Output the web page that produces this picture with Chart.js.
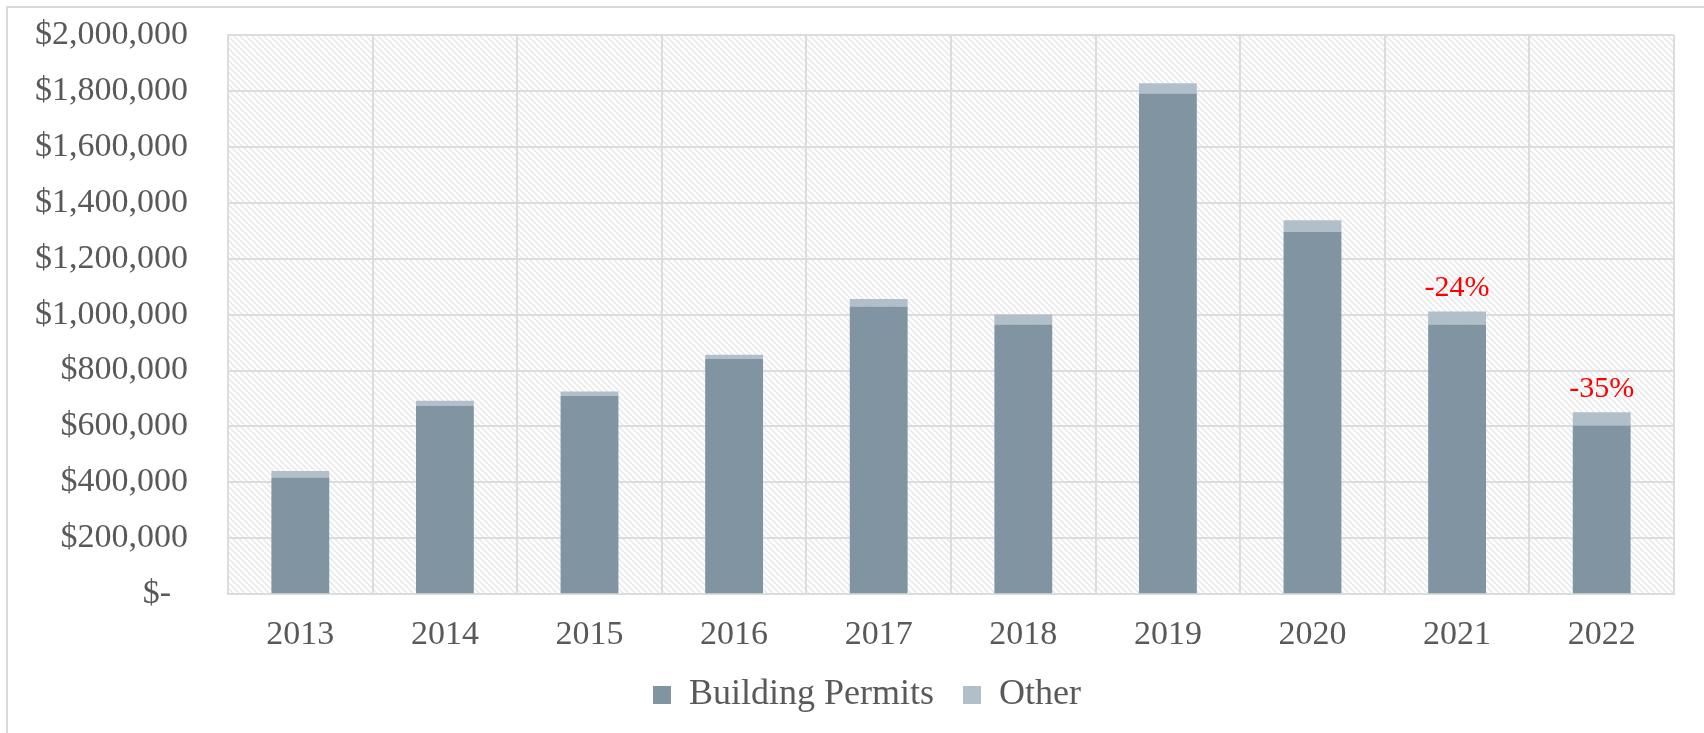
<!DOCTYPE html>
<html>
<head>
<meta charset="utf-8">
<script src="https://cdn.jsdelivr.net/npm/chart.js@4"></script>
<style>
  html, body { margin: 0; padding: 0; background: #fff; }
  #wrap { width: 1704px; height: 733px; }
</style>
</head>
<body>
<div id="wrap"><canvas id="permitsChart" width="1704" height="733"></canvas></div>
<script>
const years = ["2013", "2014", "2015", "2016", "2017", "2018", "2019", "2020", "2021", "2022"];
const buildingPermits = [417000, 674000, 710000, 841000, 1029000, 965000, 1791000, 1295000, 965000, 603000];
const other = [24000, 18000, 15000, 15000, 27000, 35000, 36000, 42000, 46000, 48000];
const changeLabels = ["", "", "", "", "", "", "", "", "-24%", "-35%"];
const yTicks = [0, 200000, 400000, 600000, 800000, 1000000, 1200000, 1400000, 1600000, 1800000, 2000000];

const FONT = "'Liberation Serif', 'DejaVu Serif', serif";
const ctx = document.getElementById("permitsChart").getContext("2d");

// light diagonal hatch for the plot area
function makeHatch() {
  const c = document.createElement("canvas");
  c.width = 6; c.height = 6;
  const p = c.getContext("2d");
  p.fillStyle = "#ffffff";
  p.fillRect(0, 0, 6, 6);
  p.strokeStyle = "#e8e8e8";
  p.lineWidth = 1.5;
  p.beginPath();
  p.moveTo(-1, -1); p.lineTo(7, 7);
  p.moveTo(-4, 2); p.lineTo(2, 8);
  p.moveTo(2, -4); p.lineTo(8, 2);
  p.stroke();
  return ctx.createPattern(c, "repeat");
}
const hatch = makeHatch();

const frame = {
  id: "frame",
  afterLayout(chart) {
    // nudge the legend row to sit under the plot like the original
    chart.legend.left += 30;
    chart.legend.right += 30;
  },
  beforeDraw(chart) {
    const c = chart.ctx, a = chart.chartArea;
    c.save();
    c.strokeStyle = "#d9d9d9";
    c.lineWidth = 2;
    c.strokeRect(7, 7, chart.width + 20, chart.height + 20);
    c.fillStyle = hatch;
    c.fillRect(a.left, a.top, a.right - a.left, a.bottom - a.top);
    c.restore();
  }
};

const changeText = {
  id: "changeText",
  afterDatasetsDraw(chart) {
    const meta = chart.getDatasetMeta(1);
    const c = chart.ctx;
    c.save();
    c.font = "30px " + FONT;
    c.fillStyle = "#ff0000";
    c.textAlign = "center";
    c.textBaseline = "middle";
    meta.data.forEach((bar, i) => {
      if (changeLabels[i]) c.fillText(changeLabels[i], bar.x, bar.y - 23);
    });
    c.restore();
  }
};

new Chart(ctx, {
  type: "bar",
  data: {
    labels: years,
    datasets: [
      {
        label: "Building Permits",
        data: buildingPermits,
        backgroundColor: "#8194a1",
        barPercentage: 0.4,
        categoryPercentage: 1.0
      },
      {
        label: "Other",
        data: other,
        backgroundColor: "#b0bfca",
        barPercentage: 0.4,
        categoryPercentage: 1.0
      }
    ]
  },
  options: {
    responsive: false,
    animation: false,
    layout: { padding: { left: 0, right: 30, top: 35, bottom: 10 } },
    plugins: {
      tooltip: { enabled: false },
      legend: {
        position: "bottom",
        labels: {
          boxWidth: 18,
          boxHeight: 18,
          padding: 2,
          color: "#595959",
          font: { family: FONT, size: 36 },
          generateLabels(chart) {
            const items = Chart.defaults.plugins.legend.labels.generateLabels(chart);
            items.forEach((it, i) => {
              if (i < items.length - 1) it.text += "   ";
            });
            return items;
          }
        }
      }
    },
    scales: {
      x: {
        stacked: true,
        grid: { color: "#dcdcdc", lineWidth: 2, drawTicks: false },
        border: { color: "#dcdcdc", width: 2 },
        ticks: { color: "#595959", padding: 20, font: { family: FONT, size: 34 } }
      },
      y: {
        stacked: true,
        min: 0,
        max: 2000000,
        afterBuildTicks(scale) {
          scale.ticks = yTicks.map(v => ({ value: v }));
        },
        afterFit(scale) {
          scale.width = 228;
          scale.paddingTop = 0;
          scale.paddingBottom = 0;
        },
        grid: { color: "#dcdcdc", lineWidth: 2, drawTicks: false },
        border: { color: "#dcdcdc", width: 2 },
        ticks: {
          color: "#595959",
          padding: 40,
          font: { family: FONT, size: 34 },
          callback(value) {
            if (value === 0) return "$-  ";
            return "$" + value.toLocaleString("en-US");
          }
        }
      }
    }
  },
  plugins: [frame, changeText]
});
</script>
</body>
</html>
